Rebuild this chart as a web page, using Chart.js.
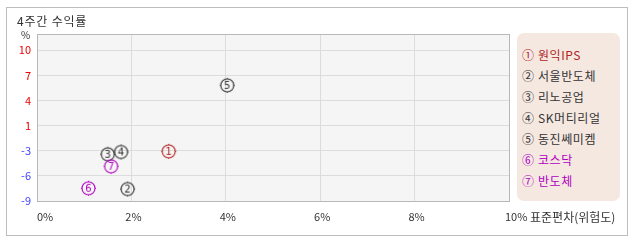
<!DOCTYPE html>
<html><head><meta charset="utf-8">
<script src="https://cdn.jsdelivr.net/npm/chart.js@4"></script>
<style>
html,body{margin:0;padding:0;background:#fff;}
#wrap{position:relative;width:638px;height:242px;overflow:hidden;font-family:"Noto Sans CJK KR","Noto Sans",sans-serif;}
#frame{position:absolute;left:6px;top:7px;width:622px;height:229px;border:1px solid #bdbdbd;box-sizing:border-box;}
#title{position:absolute;left:17px;top:12px;font-size:12px;line-height:17px;color:#333;letter-spacing:0.8px;}
#unit{position:absolute;left:21px;top:28px;font-size:10px;line-height:14px;color:#333;}
#c{position:absolute;left:0;top:0;}
#legend{position:absolute;left:517px;top:33px;width:103px;height:168px;background:#f5e8e1;border-radius:7px;box-sizing:border-box;padding:11px 0 0 5px;}
#legend div{font-size:12px;line-height:21px;height:21px;white-space:nowrap;letter-spacing:0.6px;}
</style></head>
<body>
<div id="wrap">
<div id="frame"></div>
<canvas id="c" width="638" height="242"></canvas>
<div id="title">4주간 수익률</div>
<div id="unit">%</div>
<div id="legend"></div>
</div>
<script>
const names = ['원익IPS','서울반도체','리노공업','SK머티리얼','동진쎄미켐','코스닥','반도체'];
const marks = ['①','②','③','④','⑤','⑥','⑦'];
const digits = ['1','2','3','4','5','6','7'];
const riskX = [2.79, 1.92, 1.50, 1.78, 4.03, 1.09, 1.57];
const returnY = [-2.74, -7.49, -3.11, -2.82, 5.58, -7.40, -4.63];
const colors = ['#b22222','#333333','#333333','#333333','#333333','#b000c0','#b000c0'];
const yTickValues = [-9, -5.833, -2.667, 0.5, 3.667, 6.833, 10];
const yTickLabels = ['-9','-6','-3','1','4','7','10'];
const xTickValues = [0, 2, 4, 6, 8, 10];
const xTickLabels = ['0%','2%','4%','6%','8%','10%'];
const xAxisTitle = ' 표준편차(위험도)';

// legend
const lg = document.getElementById('legend');
names.forEach((n,i)=>{
  const d = document.createElement('div');
  d.textContent = marks[i] + ' ' + n;
  d.style.color = colors[i];
  lg.appendChild(d);
});

function makeMarker(color, digit){
  const c = document.createElement('canvas');
  c.width = 21; c.height = 21;
  const g = c.getContext('2d');
  g.strokeStyle = color; g.fillStyle = color; g.lineWidth = 1.1;
  g.beginPath(); g.arc(10.5,10.5,6.5,0,Math.PI*2); g.stroke();
  g.fillRect(10,3,1,1); g.fillRect(10,17,1,1); g.fillRect(3,10,1,1); g.fillRect(17,10,1,1);
  g.font = '10px "DejaVu Sans"';
  g.textAlign = 'center'; g.textBaseline = 'middle';
  g.fillText(digit, 10.5, 11);
  return c;
}
const markers = digits.map((d,i)=>makeMarker(colors[i], d));

const plotFrame = {
  id:'plotFrame',
  beforeDraw(chart){
    const {ctx, chartArea:a} = chart;
    ctx.save(); ctx.fillStyle = '#f5f5f5';
    ctx.fillRect(a.left, a.top, a.right-a.left, a.bottom-a.top);
    ctx.restore();
  },
  beforeDatasetsDraw(chart){
    const {ctx, chartArea:a} = chart;
    ctx.save(); ctx.strokeStyle = '#b8b8b8'; ctx.lineWidth = 1;
    ctx.strokeRect(a.left+0.5, a.top+0.5, a.right-a.left, a.bottom-a.top);
    ctx.restore();
  },
  afterDraw(chart){
    const {ctx} = chart; const xs = chart.scales.x;
    ctx.save(); ctx.fillStyle = '#333'; ctx.textBaseline = 'middle';
    const y = 217;
    xTickValues.forEach((v,i)=>{
      const px = xs.getPixelForValue(v);
      ctx.font = '11px "Noto Sans CJK KR"';
      if (i === 0) { ctx.textAlign='left'; ctx.fillText(xTickLabels[i], px, y); }
      else if (i === xTickValues.length-1) {
        ctx.textAlign='left';
        const x0 = px - 4;
        ctx.fillText(xTickLabels[i], x0, y);
        const w = ctx.measureText(xTickLabels[i]).width;
        ctx.font = '12px "Noto Sans CJK KR"';
        ctx.fillText(xAxisTitle, x0 + w, y);
      } else { ctx.textAlign='center'; ctx.fillText(xTickLabels[i], px+2, y); }
    });
    ctx.restore();
  }
};

new Chart(document.getElementById('c'), {
  type:'scatter',
  data:{ datasets:[{
    data: riskX.map((x,i)=>({x, y:returnY[i]})),
    pointStyle: markers,
    pointRadius: 7,
    pointHoverRadius: 7
  }]},
  options:{
    responsive:false, animation:false,
    layout:{padding:{left:0, top:34, right:129, bottom:0}},
    plugins:{legend:{display:false}, tooltip:{enabled:false}},
    scales:{
      x:{
        type:'linear', min:0, max:10,
        afterBuildTicks(s){ s.ticks = xTickValues.map(v=>({value:v})); },
        afterFit(s){ s.height = 41; },
        ticks:{display:false},
        grid:{color:'#dcdcdc', drawTicks:false},
        border:{color:'#b8b8b8'}
      },
      y:{
        type:'linear', min:-9, max:12.05,
        afterBuildTicks(s){ s.ticks = yTickValues.map(v=>({value:v})); },
        afterFit(s){ s.width = 37; },
        ticks:{
          padding:6,
          font:{size:11, family:'"Noto Sans CJK KR"'},
          color:(ctx)=> (ctx.tick && ctx.tick.value >= 0) ? '#ee0000' : '#4040ff',
          callback:(v,i)=> yTickLabels[i]
        },
        grid:{color:'#dcdcdc', drawTicks:false},
        border:{color:'#b8b8b8'}
      }
    }
  },
  plugins:[plotFrame]
});
</script>
</body></html>
